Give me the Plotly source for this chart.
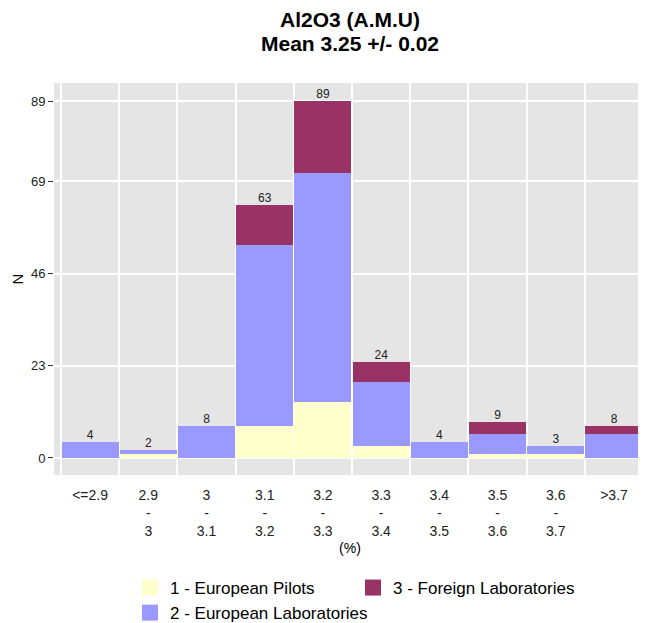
import plotly.graph_objects as go

# Al2O3 (A.M.U) - nombre de résultats par classe et par groupe
categories = ["<=2.9", "2.9<br>-<br>3", "3<br>-<br>3.1", "3.1<br>-<br>3.2", "3.2<br>-<br>3.3",
              "3.3<br>-<br>3.4", "3.4<br>-<br>3.5", "3.5<br>-<br>3.6", "3.6<br>-<br>3.7", ">3.7"]
european_pilots = [0, 1, 0, 8, 14, 3, 0, 1, 1, 0]
european_labs = [4, 1, 8, 45, 57, 16, 4, 5, 2, 6]
foreign_labs = [0, 0, 0, 10, 18, 5, 0, 3, 0, 2]
y_ticks = [0, 23, 46, 69, 89]

groups = [
    ("1 - European Pilots", european_pilots, "#FFFFCC"),
    ("2 - European Laboratories", european_labs, "#9999FF"),
    ("3 - Foreign Laboratories", foreign_labs, "#993366"),
]

FONT = "Arial, Liberation Sans, sans-serif"
# la page html a une marge de 8px : figure un peu plus petite que la fenetre
W, H = 638, 615
M_L, M_T, M_B = 46, 75, 148
x = list(range(len(categories)))
totals = [a + b + c for a, b, c in zip(european_pilots, european_labs, foreign_labs)]


def paper_y(px):
    # pixel depuis le haut de la figure -> coordonnee paper
    return (H - M_B - px) / (H - M_T - M_B)


fig = go.Figure()
for name, vals, color in groups:
    fig.add_trace(go.Bar(
        name=name, x=x, y=vals, width=0.98,
        marker=dict(color=color, line=dict(width=0)),
        showlegend=False,
    ))

# total au-dessus de chaque barre
fig.add_trace(go.Scatter(
    x=x, y=totals, mode="text", text=[str(t) for t in totals],
    textposition="top center", textfont=dict(size=12, color="#222222", family=FONT),
    showlegend=False, hoverinfo="skip",
))

# legende : ordre 1, 3, 2 pour avoir deux colonnes comme ggplot
for i in [0, 2, 1]:
    name, vals, color = groups[i]
    fig.add_trace(go.Scatter(
        name=name, x=[None], y=[None], mode="markers",
        marker=dict(symbol="square", size=22, color=color),
    ))

# titre sur deux lignes
for txt, ypx in [("Al2O3 (A.M.U)", 11), ("Mean 3.25 +/- 0.02", 35)]:
    fig.add_annotation(
        text="<b>" + txt + "</b>", x=0.5, xref="paper", xanchor="center",
        y=paper_y(ypx), yref="paper", yanchor="middle", showarrow=False,
        font=dict(size=21, color="black", family=FONT),
    )

fig.update_layout(
    width=W, height=H, autosize=False,
    margin=dict(l=M_L, r=0, t=M_T, b=M_B, pad=0),
    barmode="stack", bargap=0,
    plot_bgcolor="#E5E5E5", paper_bgcolor="white",
    font=dict(family=FONT, color="#333333"),
    legend=dict(
        orientation="h", traceorder="normal",
        x=0.1284, xanchor="left", xref="paper",
        y=1 - 562 / H, yanchor="top", yref="container",
        entrywidth=178, itemsizing="trace", tracegroupgap=0,
        font=dict(size=17, color="black", family=FONT),
        bgcolor="rgba(0,0,0,0)",
    ),
)

fig.update_xaxes(
    range=[-0.62, 9.55], tickvals=x, ticktext=categories, automargin=False,
    showgrid=False, zeroline=False, showline=False,
    ticks="outside", ticklen=7, tickcolor="rgba(0,0,0,0)",
    tickfont=dict(size=14, color="#222222"),
    minor=dict(tick0=0.5, dtick=1, showgrid=True, gridcolor="white", gridwidth=1.5, ticks=""),
    title=dict(text="(%)", font=dict(size=14, color="black"), standoff=4),
)
fig.update_yaxes(
    range=[-4.24, 93.5], tickvals=y_ticks, automargin=False,
    showgrid=True, gridcolor="white", gridwidth=1.5,
    zeroline=True, zerolinecolor="white", zerolinewidth=1.5,
    ticks="outside", ticklen=5, tickcolor="#333333", tickwidth=1,
    tickfont=dict(size=13, color="#222222"),
    title=dict(text="N", font=dict(size=15, color="black"), standoff=3),
)

fig.write_html("out.html")
